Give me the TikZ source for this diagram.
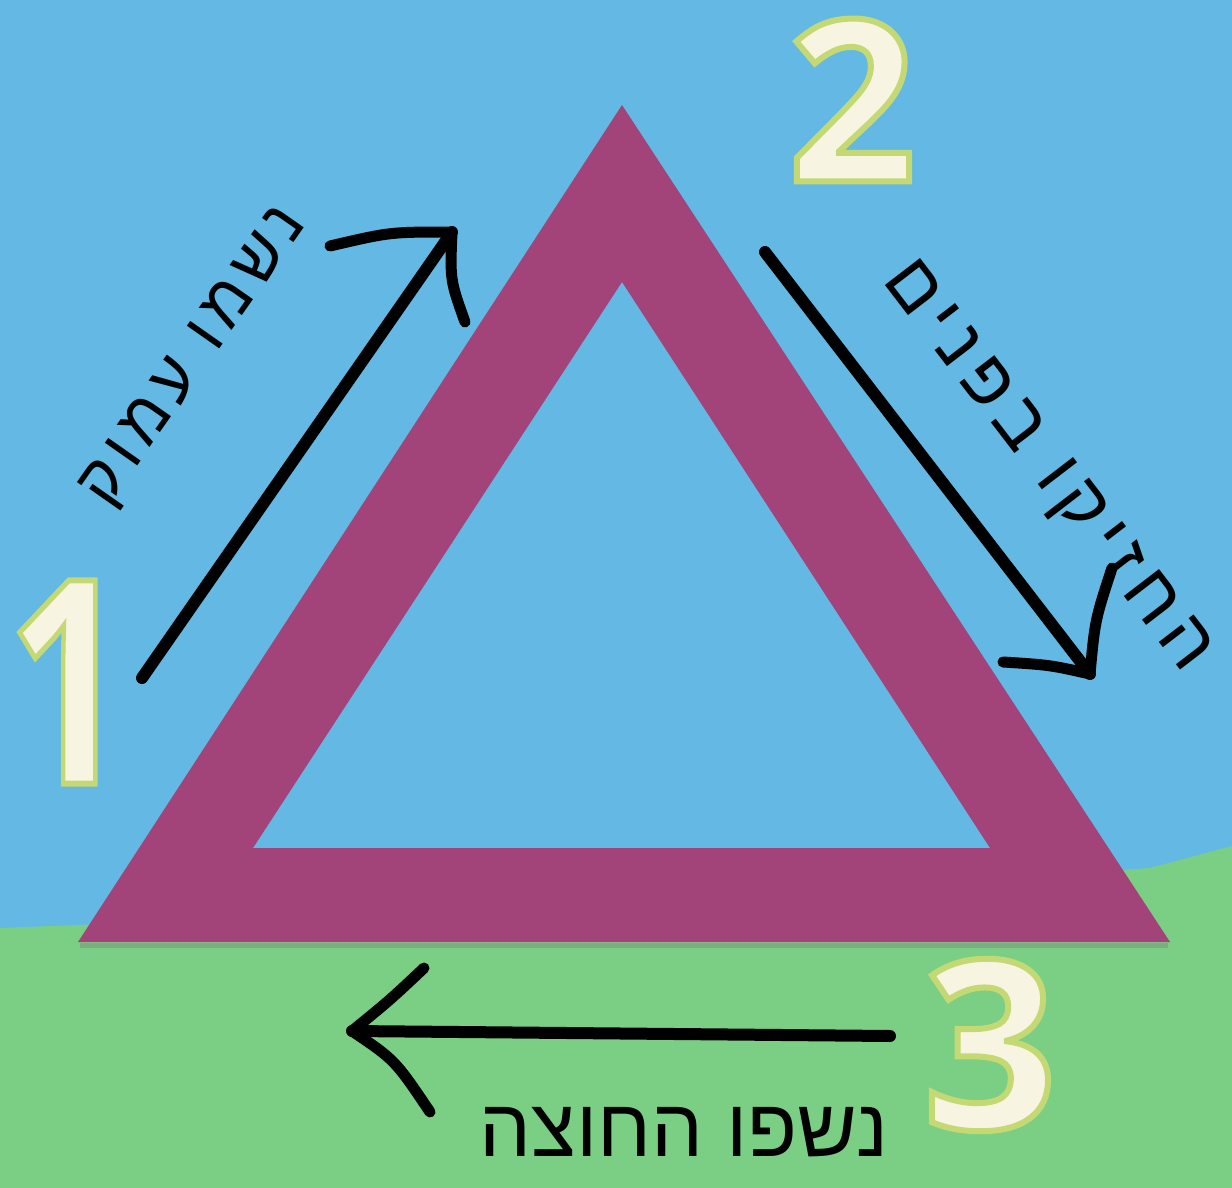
\documentclass[tikz,border=0pt]{standalone}
\usepackage{fontspec}
\setmainfont{Liberation Sans}
\newfontfamily\hebfont[Script=Hebrew]{Liberation Sans}
\newfontfamily\hebspaced[Script=Hebrew,LetterSpace=12]{Liberation Sans}
\newfontfamily\numfont{Open Sans}
\TeXXeTstate=1
\definecolor{skyblue}{HTML}{63B9E3}
\definecolor{grassgreen}{HTML}{7BCF84}
\definecolor{tripurple}{HTML}{A2437A}
\definecolor{numcream}{HTML}{F7F5E1}
\newcommand{\outlinednum}[1]{{\color{numcream}\special{pdf:literal direct 2 Tr 6 w 0.77 0.85 0.45 RG}#1\special{pdf:literal direct 0 Tr}}}
\tikzset{
  handarrow/.style={line width=12pt, line cap=round, line join=round, black},
  barb/.style={line width=11pt, line cap=round, line join=round, black},
  heblabel/.style={font=\hebfont\fontsize{76}{76}\selectfont, text=black, inner sep=0pt},
  bignum/.style={inner sep=0pt}
}
\begin{document}
\begin{tikzpicture}[x=1pt,y=-1pt]
\useasboundingbox (0,0) rectangle (1232,1188);
% background
\fill[skyblue] (0,0) rectangle (1232,1188);
\fill[grassgreen] (0,1188) -- (0,928) -- (600,905) -- (1150,868) -- (1232,846) -- (1232,1188) -- cycle;
% triangle shadow line
\draw[line width=5pt, color=gray!45!grassgreen] (80,945) -- (1168,945);
% triangle
\fill[tripurple, even odd rule] (622,105) -- (1170,942) -- (78,942) -- cycle
  (622,282) -- (990,848) -- (253,848) -- cycle;

% arrows
\coordinate (a1s) at (142,678);
\coordinate (a1e) at (452,232);
\coordinate (a1b1) at (330,246);
\coordinate (a1b2) at (465,322);
\draw[handarrow] (a1s) -- (a1e);
\draw[barb] (a1b1) .. controls (390,232) .. (a1e) .. controls (450,280) .. (a1b2);

\coordinate (a2s) at (765,252);
\coordinate (a2e) at (1090,674);
\coordinate (a2b1) at (1003,662);
\coordinate (a2b2) at (1112,568);
\draw[handarrow] (a2s) -- (a2e);
\draw[barb] (a2b1) .. controls (1050,665) .. (a2e) .. controls (1095,620) .. (a2b2);

\coordinate (a3s) at (890,1036);
\coordinate (a3e) at (352,1031);
\coordinate (a3b1) at (424,968);
\coordinate (a3b2) at (430,1112);
\draw[handarrow] (a3s) -- (a3e);
\draw[barb] (a3b1) .. controls (390,1000) .. (a3e) .. controls (395,1060) .. (a3b2);

% labels
\node[heblabel, font=\hebspaced\fontsize{66}{66}\selectfont, rotate=55] (inhale) at (196,358) {\beginR נשמו עמוק\endR};
\node[heblabel, font=\hebspaced\fontsize{74}{74}\selectfont, rotate=-52.5] (hold) at (1045,468) {\beginR החזיקו בפנים\endR};
\node[heblabel, font=\hebfont\fontsize{82}{82}\selectfont] (exhale) at (684,1132) {\beginR נשפו החוצה\endR};

% numbers
\node[bignum, font=\numfont\bfseries\fontsize{285}{285}\selectfont] (n1) at (68,682) {\scalebox{0.75}[1]{\outlinednum{1}}};
\node[bignum, font=\numfont\bfseries\fontsize{225}{225}\selectfont] (n2) at (852,100) {\outlinednum{2}};
\node[bignum, font=\numfont\bfseries\fontsize{235}{235}\selectfont] (n3) at (990,1045) {\outlinednum{3}};
\end{tikzpicture}
\end{document}
